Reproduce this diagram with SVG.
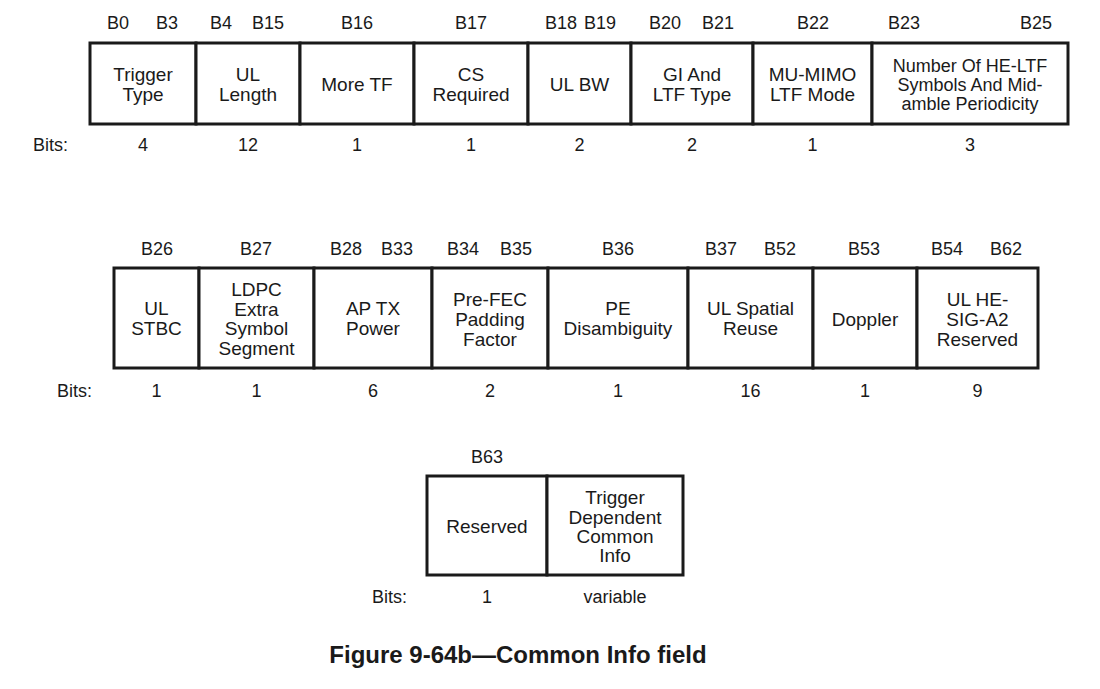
<svg xmlns="http://www.w3.org/2000/svg" width="1100" height="689" viewBox="0 0 1100 689">
  <style>
    .cell { fill: #ffffff; stroke: #1a1a1a; stroke-width: 3; }
    text { font-family: "Liberation Sans", Arial, sans-serif; fill: #1a1a1a; }
    .lbl { font-size: 19px; text-anchor: middle; }
    .lbl-s { font-size: 18px; text-anchor: middle; }
    .bit { font-size: 18px; text-anchor: middle; }
    .num { font-size: 18px; text-anchor: middle; }
    .bits { font-size: 18px; }
    .title { font-size: 24px; font-weight: bold; text-anchor: middle; }
  </style>
  <rect width="1100" height="689" fill="#ffffff"/>

  <!-- Row 1: B0..B25 -->
  <g id="row1">
    <g id="trigger-type">
      <rect class="cell" x="90" y="43" width="106" height="81"/>
      <text class="bit" x="118" y="29">B0</text>
      <text class="bit" x="167" y="29">B3</text>
      <text class="lbl" x="143" y="80.5">Trigger</text>
      <text class="lbl" x="143" y="100.5">Type</text>
      <text class="num" x="143" y="151">4</text>
    </g>
    <g id="ul-length">
      <rect class="cell" x="196" y="43" width="104" height="81"/>
      <text class="bit" x="221" y="29">B4</text>
      <text class="bit" x="268" y="29">B15</text>
      <text class="lbl" x="248" y="80.5">UL</text>
      <text class="lbl" x="248" y="100.5">Length</text>
      <text class="num" x="248" y="151">12</text>
    </g>
    <g id="more-tf">
      <rect class="cell" x="300" y="43" width="114" height="81"/>
      <text class="bit" x="357" y="29">B16</text>
      <text class="lbl" x="357" y="90.5">More TF</text>
      <text class="num" x="357" y="151">1</text>
    </g>
    <g id="cs-required">
      <rect class="cell" x="414" y="43" width="114" height="81"/>
      <text class="bit" x="471" y="29">B17</text>
      <text class="lbl" x="471" y="80.5">CS</text>
      <text class="lbl" x="471" y="100.5">Required</text>
      <text class="num" x="471" y="151">1</text>
    </g>
    <g id="ul-bw">
      <rect class="cell" x="528" y="43" width="103" height="81"/>
      <text class="bit" x="561" y="29">B18</text>
      <text class="bit" x="600" y="29">B19</text>
      <text class="lbl" x="579.5" y="90.5">UL BW</text>
      <text class="num" x="579.5" y="151">2</text>
    </g>
    <g id="gi-ltf-type">
      <rect class="cell" x="631" y="43" width="122" height="81"/>
      <text class="bit" x="665" y="29">B20</text>
      <text class="bit" x="718" y="29">B21</text>
      <text class="lbl" x="692" y="80.5">GI And</text>
      <text class="lbl" x="692" y="100.5">LTF Type</text>
      <text class="num" x="692" y="151">2</text>
    </g>
    <g id="mu-mimo-ltf-mode">
      <rect class="cell" x="753" y="43" width="119" height="81"/>
      <text class="bit" x="813" y="29">B22</text>
      <text class="lbl" x="812.5" y="80.5">MU-MIMO</text>
      <text class="lbl" x="812.5" y="100.5">LTF Mode</text>
      <text class="num" x="812.5" y="151">1</text>
    </g>
    <g id="num-he-ltf">
      <rect class="cell" x="872" y="43" width="196" height="81"/>
      <text class="bit" x="904" y="29">B23</text>
      <text class="bit" x="1036" y="29">B25</text>
      <text class="lbl-s" x="970" y="72">Number Of HE-LTF</text>
      <text class="lbl-s" x="970" y="91">Symbols And Mid-</text>
      <text class="lbl-s" x="970" y="110">amble Periodicity</text>
      <text class="num" x="970" y="151">3</text>
    </g>
    <text class="bits" x="33" y="151">Bits:</text>
  </g>

  <!-- Row 2: B26..B62 -->
  <g id="row2">
    <g id="ul-stbc">
      <rect class="cell" x="114" y="268" width="85" height="100"/>
      <text class="bit" x="157" y="255">B26</text>
      <text class="lbl" x="156.5" y="315">UL</text>
      <text class="lbl" x="156.5" y="335">STBC</text>
      <text class="num" x="156.5" y="397">1</text>
    </g>
    <g id="ldpc-extra">
      <rect class="cell" x="199" y="268" width="115" height="100"/>
      <text class="bit" x="256" y="255">B27</text>
      <text class="lbl" x="256.5" y="296">LDPC</text>
      <text class="lbl" x="256.5" y="316">Extra</text>
      <text class="lbl" x="256.5" y="335">Symbol</text>
      <text class="lbl" x="256.5" y="355">Segment</text>
      <text class="num" x="256.5" y="397">1</text>
    </g>
    <g id="ap-tx-power">
      <rect class="cell" x="314" y="268" width="118" height="100"/>
      <text class="bit" x="346" y="255">B28</text>
      <text class="bit" x="397" y="255">B33</text>
      <text class="lbl" x="373" y="315">AP TX</text>
      <text class="lbl" x="373" y="335">Power</text>
      <text class="num" x="373" y="397">6</text>
    </g>
    <g id="pre-fec">
      <rect class="cell" x="432" y="268" width="116" height="100"/>
      <text class="bit" x="463" y="255">B34</text>
      <text class="bit" x="516" y="255">B35</text>
      <text class="lbl" x="490" y="306">Pre-FEC</text>
      <text class="lbl" x="490" y="326">Padding</text>
      <text class="lbl" x="490" y="346">Factor</text>
      <text class="num" x="490" y="397">2</text>
    </g>
    <g id="pe-disambiguity">
      <rect class="cell" x="548" y="268" width="140" height="100"/>
      <text class="bit" x="618" y="255">B36</text>
      <text class="lbl" x="618" y="315">PE</text>
      <text class="lbl" x="618" y="335">Disambiguity</text>
      <text class="num" x="618" y="397">1</text>
    </g>
    <g id="ul-spatial-reuse">
      <rect class="cell" x="688" y="268" width="125" height="100"/>
      <text class="bit" x="721" y="255">B37</text>
      <text class="bit" x="780" y="255">B52</text>
      <text class="lbl" x="750.5" y="315">UL Spatial</text>
      <text class="lbl" x="750.5" y="335">Reuse</text>
      <text class="num" x="750.5" y="397">16</text>
    </g>
    <g id="doppler">
      <rect class="cell" x="813" y="268" width="104" height="100"/>
      <text class="bit" x="864" y="255">B53</text>
      <text class="lbl" x="865" y="326">Doppler</text>
      <text class="num" x="865" y="397">1</text>
    </g>
    <g id="ul-he-sig-a2">
      <rect class="cell" x="917" y="268" width="121" height="100"/>
      <text class="bit" x="947" y="255">B54</text>
      <text class="bit" x="1006" y="255">B62</text>
      <text class="lbl" x="977.5" y="306">UL HE-</text>
      <text class="lbl" x="977.5" y="326">SIG-A2</text>
      <text class="lbl" x="977.5" y="346">Reserved</text>
      <text class="num" x="977.5" y="397">9</text>
    </g>
    <text class="bits" x="57" y="397">Bits:</text>
  </g>

  <!-- Row 3: B63 and trigger dependent part -->
  <g id="row3">
    <g id="reserved">
      <rect class="cell" x="427" y="476" width="120" height="99"/>
      <text class="bit" x="487" y="463">B63</text>
      <text class="lbl" x="487" y="532.5">Reserved</text>
      <text class="num" x="487" y="603">1</text>
    </g>
    <g id="trigger-dependent">
      <rect class="cell" x="547" y="476" width="136" height="99"/>
      <text class="lbl" x="615" y="504">Trigger</text>
      <text class="lbl" x="615" y="523.5">Dependent</text>
      <text class="lbl" x="615" y="543">Common</text>
      <text class="lbl" x="615" y="562">Info</text>
      <text class="num" x="615" y="603">variable</text>
    </g>
    <text class="bits" x="372" y="603">Bits:</text>
  </g>

  <text id="caption" class="title" x="518" y="663">Figure 9-64b—Common Info field</text>
</svg>
